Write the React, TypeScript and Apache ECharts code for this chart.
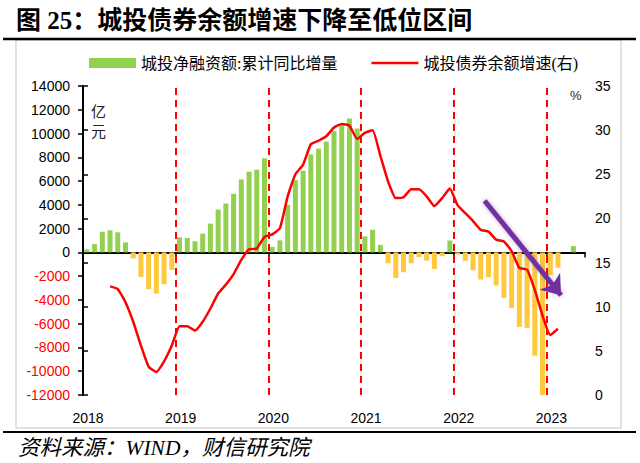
import { useEffect, useRef } from 'react';
import * as echarts from 'echarts';

// 月度数据：2018-01 起
const years = ['2018', '2019', '2020', '2021', '2022', '2023'];

// 城投净融资额:累计同比增量（亿元），2018-01 ~ 2023-04
const netFinancing = [
  250, 700, 1740, 1860, 1690, 840, -500, -2060, -3100, -3460, -2680, -1470,
  1270, 1220, 930, 1580, 2420, 3600, 4110, 4930, 6140, 6790, 6960, 7910,
  460, 1010, 4000, 6080, 6870, 8250, 8730, 9320, 10210, 10700, 11260, 10420,
  1350, 1900, 630, -910, -2150, -1670, -910, -400, -690, -1390, -320, 1000,
  -180, -700, -1500, -2280, -2080, -2790, -3830, -4670, -6270, -6350, -8690, -12000,
  -1910, -1290, 0, 530,
];

// 城投债券余额增速（%），2018-04 ~ 2023-02
const growthStart = 3;
const bondGrowth = [
  12.3, 12.0, 10.5, 8.3, 5.6, 3.2, 2.6, 3.8, 5.6,
  7.8, 7.8, 7.3, 8.3, 9.8, 11.5, 12.5, 13.7, 15.3, 16.5, 16.6, 17.9,
  18.2, 18.9, 22.5, 25.0, 26.1, 28.4, 28.8, 29.3, 30.3, 30.7, 30.5, 29.0,
  29.7, 30.0, 27.1, 24.2, 22.3, 22.4, 23.3, 23.3, 22.5, 21.4, 22.3, 23.4,
  21.5, 20.6, 19.7, 18.7, 18.5, 17.6, 17.4, 16.3, 14.4, 14.2, 11.9, 9.0,
  6.8, 7.5,
];

// 年份分界（月序号）
const yearBreaks = [12, 24, 36, 48, 60];

// 趋势箭头（月序号, %）
const arrowFrom = [52.0, 22.0];
const arrowTo = [61.9, 11.3];

const GREEN = '#92D050';
const YELLOW = '#FFC83D';
const RED = '#FF0000';
const NUM_FONT = "'Liberation Sans', Arial, sans-serif";
const CJK_FONT = "'Liberation Serif', 'Noto Sans CJK SC', serif";

// 图例里的细线（四角留极小点撑开边界）
const LINE_ICON =
  'path://M0,3.6H48V6.4H0Z M0,0H0.01V0.01H0Z M47.99,9.99H48V10H47.99Z';

export default function App() {
  const chartRef = useRef<HTMLDivElement>(null);

  useEffect(() => {
    if (!chartRef.current) return;
    const chart = echarts.init(chartRef.current, undefined, { renderer: 'svg' });

    const option: any = {
      animation: false,
      backgroundColor: '#fff',
      legend: {
        left: 84,
        top: 50,
        itemWidth: 47,
        itemHeight: 10,
        itemGap: 34,
        textStyle: { fontSize: 16, color: '#000', fontFamily: CJK_FONT },
        data: [
          { name: '城投净融资额:累计同比增量', icon: 'rect' },
          { name: '城投债券余额增速(右)', icon: LINE_ICON, itemStyle: { color: RED } },
        ],
      },
      grid: { left: 83, right: 55, top: 86, bottom: 68, containLabel: false },
      xAxis: [
        {
          type: 'value',
          min: 0,
          max: 65,
          interval: 12,
          position: 'bottom',
          axisLine: { onZero: true, lineStyle: { color: '#000', width: 2 } },
          axisTick: { show: true, length: 5, lineStyle: { color: '#000', width: 1.5 } },
          axisLabel: { show: false },
          splitLine: { show: false },
        },
        {
          type: 'value',
          min: 0,
          max: 65,
          interval: 12,
          position: 'bottom',
          axisLine: { show: false, onZero: false },
          axisTick: { show: false },
          splitLine: { show: false },
          axisLabel: {
            margin: 16,
            fontSize: 14,
            color: '#000',
            fontFamily: NUM_FONT,
            padding: [0, 0, 0, 10],
            formatter: (v: number) => (v % 12 === 0 ? years[v / 12] ?? '' : ''),
          },
        },
      ],
      yAxis: [
        {
          type: 'value',
          min: -12000,
          max: 14000,
          interval: 2000,
          position: 'left',
          axisLine: { show: true, lineStyle: { color: '#000', width: 2 } },
          axisTick: { show: true, length: 5, lineStyle: { color: '#000', width: 1.5 } },
          splitLine: { show: false },
          axisLabel: {
            margin: 13,
            fontSize: 14,
            fontFamily: NUM_FONT,
            formatter: (v: number) => String(v),
            color: (v: any) => (Number(v) < 0 ? RED : '#000'),
          },
        },
        {
          type: 'value',
          min: 0,
          max: 35,
          interval: 5,
          position: 'right',
          axisLine: { show: true, lineStyle: { color: '#000', width: 2 } },
          axisTick: { show: true, length: 5, lineStyle: { color: '#000', width: 1.5 } },
          splitLine: { show: false },
          axisLabel: { margin: 10, fontSize: 14, fontFamily: NUM_FONT, color: '#000' },
        },
      ],
      series: [
        {
          name: '城投净融资额:累计同比增量',
          type: 'bar',
          xAxisIndex: 0,
          yAxisIndex: 0,
          barWidth: 5,
          itemStyle: { color: GREEN },
          data: netFinancing.map((v, i) => ({
            value: [i + 0.5, v],
            itemStyle: { color: v < 0 ? YELLOW : GREEN },
          })),
          markLine: {
            silent: true,
            symbol: 'none',
            label: { show: false },
            lineStyle: { color: RED, type: [7, 5], width: 2 },
            data: yearBreaks.map((x) => ({ xAxis: x })),
          },
          z: 2,
        },
        {
          name: '城投债券余额增速(右)',
          type: 'line',
          xAxisIndex: 0,
          yAxisIndex: 1,
          symbol: 'none',
          smooth: 0.15,
          lineStyle: { color: RED, width: 2.5 },
          itemStyle: { color: RED },
          data: bondGrowth.map((v, i) => [i + growthStart + 0.5, v]),
          markLine: {
            silent: true,
            symbol: ['none', 'arrow'],
            symbolSize: [20, 18],
            label: { show: false },
            lineStyle: {
              color: '#7030A0',
              width: 5,
              type: 'solid',
              shadowBlur: 4,
              shadowColor: 'rgba(112,48,160,0.45)',
            },
            data: [[{ coord: arrowFrom }, { coord: arrowTo }]],
          },
          z: 3,
        },
      ],
      graphic: [
        {
          type: 'rect',
          z: -10,
          shape: { x: 16, y: 40, width: 605, height: 388 },
          style: { fill: 'none', stroke: '#D9D9D9', lineWidth: 1.5 },
        },
        {
          type: 'text',
          left: 16,
          top: 8,
          style: {
            text: '图 25：城投债券余额增速下降至低位区间',
            fontSize: 25,
            fontWeight: 'bold',
            fontFamily: CJK_FONT,
            fill: '#000',
          },
        },
        {
          type: 'line',
          shape: { x1: 3, y1: 39, x2: 636, y2: 39 },
          style: { stroke: '#000', lineWidth: 2.5 },
        },
        {
          type: 'line',
          shape: { x1: 3, y1: 432, x2: 636, y2: 432 },
          style: { stroke: '#000', lineWidth: 2 },
        },
        {
          type: 'text',
          x: 91,
          y: 102,
          style: { text: '亿\n元', fontSize: 15, lineHeight: 20, fontFamily: CJK_FONT, fill: '#222' },
        },
        {
          type: 'text',
          x: 570,
          y: 89,
          style: { text: '%', fontSize: 13, fontFamily: NUM_FONT, fill: '#222' },
        },
        {
          type: 'text',
          x: 18,
          y: 437,
          style: {
            text: '资料来源：WIND，财信研究院',
            fontSize: 21.5,
            fontStyle: 'italic',
            fontFamily: CJK_FONT,
            fill: '#000',
          },
        },
      ],
    };

    chart.setOption(option);
    return () => chart.dispose();
  }, []);

  return (
    <div
      ref={chartRef}
      style={{ position: 'absolute', left: 0, top: 0, width: 640, height: 463, background: '#fff' }}
    />
  );
}
